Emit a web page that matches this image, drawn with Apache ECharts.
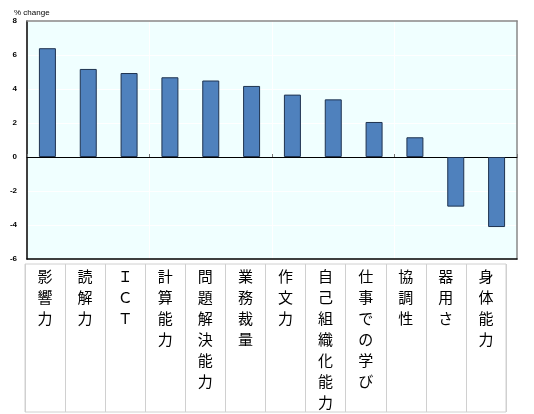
<!DOCTYPE html>
<html>
<head>
<meta charset="utf-8">
<script src="https://cdn.jsdelivr.net/npm/echarts@6/dist/echarts.min.js"></script>
<style>html,body{margin:0;padding:0;background:#fff;}#c{width:534px;height:414px;}</style>
</head>
<body>
<div id="c"></div>
<script>
const categories = ['影響力','読解力','ＩＣＴ','計算能力','問題解決能力','業務裁量','作文力','自己組織化能力','仕事での学び','協調性','器用さ','身体能力'];
const values = [6.4, 5.18, 4.94, 4.69, 4.5, 4.18, 3.67, 3.39, 2.06, 1.16, -2.92, -4.12];
const yMin = -6, yMax = 8, yStep = 2;
const yTitle = '% change';

const chart = echarts.init(document.getElementById('c'), null, {renderer: 'canvas'});
chart.setOption({
  animation: false,
  backgroundColor: '#fff',
  title: {
    text: yTitle, left: 9, top: 4,
    textStyle: {fontSize: 8, fontWeight: 'normal', fontFamily: 'Liberation Sans, Arial', color: '#000'}
  },
  grid: [
    {left: 27, right: 17, top: 21, bottom: 155, show: true, backgroundColor: '#F0FFFF', borderWidth: 0},
    {left: 25, right: 28, top: 264, height: 148, show: true, backgroundColor: 'transparent', borderColor: '#d0d0d0', borderWidth: 1}
  ],
  xAxis: [
    {gridIndex: 0, type: 'category', data: categories, position: 'bottom',
     axisLine: {onZero: false, lineStyle: {color: '#000', width: 1.5}},
     axisTick: {show: false}, axisLabel: {show: false},
     splitLine: {show: true, lineStyle: {color: '#ffffff', width: 1}}},
    {gridIndex: 0, type: 'category', data: categories, position: 'bottom',
     axisLine: {onZero: true, lineStyle: {color: '#000', width: 1}},
     axisTick: {show: true, inside: true, length: 3, lineStyle: {color: '#777'}},
     axisLabel: {show: false}, splitLine: {show: false}},
    {gridIndex: 0, type: 'category', data: categories, position: 'top',
     axisLine: {onZero: false, lineStyle: {color: '#888', width: 1.5}},
     axisTick: {show: false}, axisLabel: {show: false}, splitLine: {show: false}},
    {gridIndex: 1, type: 'category', data: categories, position: 'top',
     axisLine: {show: false}, axisTick: {show: false},
     splitLine: {show: true, lineStyle: {color: '#d0d0d0', width: 1}},
     axisLabel: {inside: true, margin: 2, interval: 0, verticalAlign: 'top',
       formatter: v => v.split('').join('\n'),
       fontSize: 15, lineHeight: 21, color: '#000', fontFamily: 'Noto Sans CJK JP'}}
  ],
  yAxis: [
    {gridIndex: 0, type: 'value', min: yMin, max: yMax, interval: yStep,
     axisLine: {show: true, onZero: false, lineStyle: {color: '#000', width: 1.5}},
     axisTick: {show: false},
     splitLine: {show: true, lineStyle: {color: '#ffffff', width: 1}},
     axisLabel: {fontSize: 8, fontWeight: 'bold', color: '#000', margin: 10, fontFamily: 'Liberation Sans, Arial'}},
    {gridIndex: 0, type: 'value', position: 'right', min: yMin, max: yMax, interval: yStep,
     axisLine: {show: true, onZero: false, lineStyle: {color: '#888', width: 1.5}},
     axisTick: {show: false}, axisLabel: {show: false}, splitLine: {show: false}},
    {gridIndex: 1, type: 'value', show: false, min: 0, max: 1}
  ],
  series: [{
    type: 'bar', xAxisIndex: 0, yAxisIndex: 0, data: values, barWidth: 17,
    itemStyle: {color: '#4F81BD', borderColor: '#1F3350', borderWidth: 1}
  }]
});
</script>
</body>
</html>
